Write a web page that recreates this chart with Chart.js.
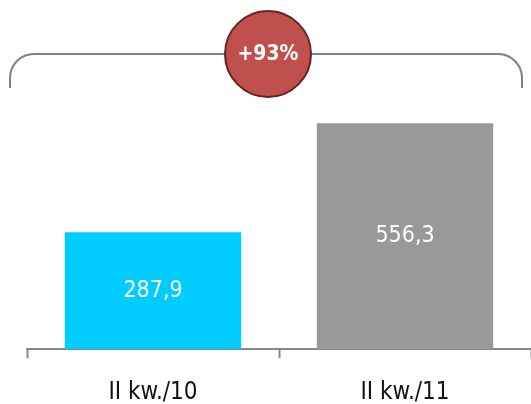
<!DOCTYPE html>
<html>
<head>
<meta charset="utf-8">
<script src="https://cdn.jsdelivr.net/npm/chart.js@4/dist/chart.umd.min.js"></script>
<style>
  html, body { margin: 0; padding: 0; background: #fff; overflow: hidden; }
  #wrap { width: 531px; height: 404px; overflow: hidden; }
</style>
</head>
<body>
<div id="wrap"><canvas id="chart" width="531" height="427"></canvas></div>
<script>
const labels = ['II kw./10', 'II kw./11']
const values = [287.9, 556.3]
const barColors = ['#00CCFF', '#999999']
const changeLabel = '+93%'

const FONT = "'DejaVu Sans Condensed', 'DejaVu Sans', sans-serif"

// white value labels centred inside each bar
const valueLabels = {
    id: 'valueLabels',
    afterDatasetsDraw(chart) {
        const ctx = chart.ctx
        const meta = chart.getDatasetMeta(0)
        ctx.save()
        ctx.fillStyle = '#fff'
        ctx.font = '23px ' + FONT
        ctx.textAlign = 'center'
        ctx.textBaseline = 'middle'
        meta.data.forEach((bar, i) => {
            const txt = values[i].toFixed(1).replace('.', ',')
            ctx.fillText(txt, bar.x, (bar.y + bar.base) / 2)
        })
        ctx.restore()
    }
}

// bracket over both bars with the change bubble
const bracket = {
    id: 'bracket',
    afterDraw(chart) {
        const ctx = chart.ctx
        const meta = chart.getDatasetMeta(0)
        const left = 10, right = 522, y = 54, bottom = 88, r = 24
        const cx = (meta.data[0].x + meta.data[1].x) / 2 - 11
        ctx.save()
        ctx.strokeStyle = '#808080'
        ctx.lineWidth = 2
        ctx.beginPath()
        ctx.moveTo(left, bottom)
        ctx.arcTo(left, y, left + r, y, r)
        ctx.lineTo(right - r, y)
        ctx.arcTo(right, y, right, bottom, r)
        ctx.lineTo(right, bottom)
        ctx.stroke()

        ctx.beginPath()
        ctx.arc(cx, y, 43, 0, Math.PI * 2)
        ctx.fillStyle = '#C0504D'
        ctx.fill()
        ctx.strokeStyle = '#632523'
        ctx.lineWidth = 2
        ctx.stroke()

        ctx.fillStyle = '#fff'
        ctx.font = 'bold 21px ' + FONT
        ctx.textAlign = 'center'
        ctx.textBaseline = 'middle'
        ctx.fillText(changeLabel, cx, y + 1)
        ctx.restore()
    }
}

new Chart(document.getElementById('chart'), {
    type: 'bar',
    data: {
        labels: labels,
        datasets: [{
            data: values,
            backgroundColor: barColors,
            categoryPercentage: 1,
            barPercentage: 0.7
        }]
    },
    options: {
        responsive: false,
        animation: false,
        layout: { padding: { left: 27, right: 0, top: 65, bottom: 0 } },
        plugins: { legend: { display: false }, tooltip: { enabled: false } },
        scales: {
            x: {
                grid: {
                    drawOnChartArea: false,
                    tickLength: 9,
                    tickWidth: 2,
                    tickColor: c => c.index >= labels.length ? 'rgba(0,0,0,0)' : '#888',
                    offset: true
                },
                border: { color: '#888', width: 2 },
                ticks: { color: '#111', font: { size: 24, family: FONT }, padding: 20 }
            },
            y: {
                display: false,
                min: 0,
                max: 700
            }
        }
    },
    plugins: [valueLabels, bracket]
})
</script>
</body>
</html>
